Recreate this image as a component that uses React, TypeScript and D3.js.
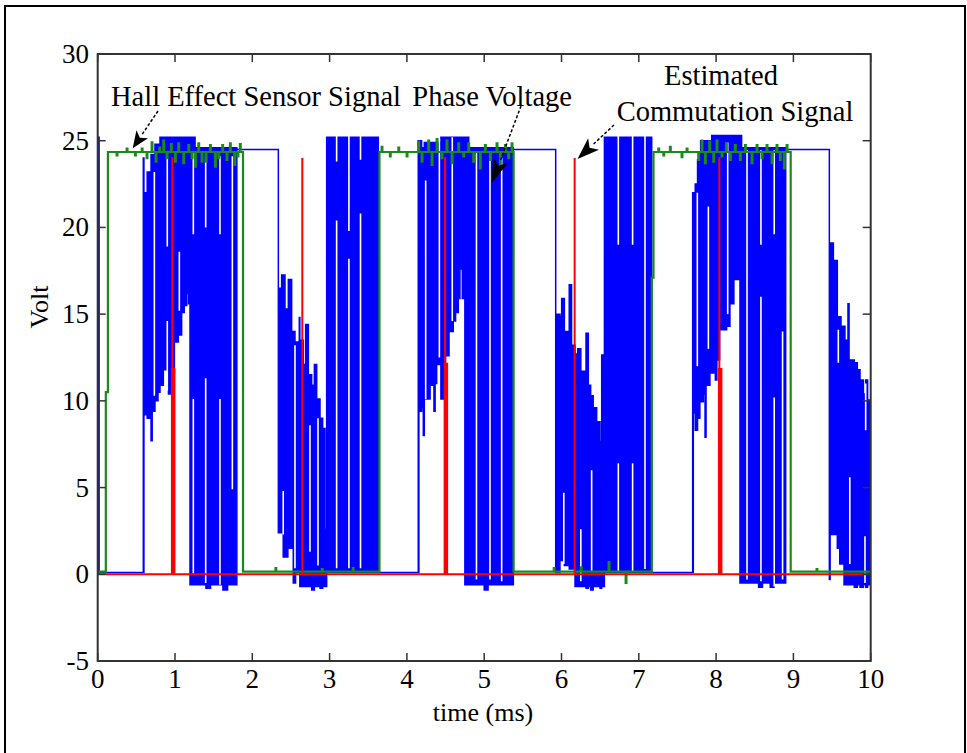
import React from 'react';
import * as d3 from 'd3';

const W = 967, H = 753;
const X0 = 97.7, X1 = 870.7, YT = 54, YB = 661;
const FONT = '"Liberation Serif", "Times New Roman", serif';

const xTicks = [0, 1, 2, 3, 4, 5, 6, 7, 8, 9, 10];
const yTicks = [-5, 0, 5, 10, 15, 20, 25, 30];

// Phase voltage envelope: [time ms, lower V, upper V] (step-after)
const blueEnv: number[][] = [
  [0.000, 0.1, 25.2], [0.018, 0.1, 0.1],
  [0.590, 0.1, 24.0], [0.598, 9.2, 22.0], [0.640, 9.0, 23.2], [0.690, 7.7, 24.2], [0.705, 9.4, 24.2],
  [0.741, 10.0, 24.8], [0.780, 10.5, 24.8], [0.806, 10.9, 25.2], [0.849, 11.8, 25.2], [0.892, 12.4, 25.2],
  [0.915, 10.4, 25.2], [0.945, 11.6, 25.2], [0.992, 13.4, 25.2], [1.043, 13.8, 25.2], [1.086, 15.1, 25.2],
  [1.120, 15.5, 25.2], [1.151, 16.2, 25.2], [1.175, 15.6, 25.2],
  [1.194, -0.6, 25.2], [1.260, -0.6, 24.6], [1.400, -0.8, 24.6], [1.460, -0.6, 24.6], [1.620, -0.9, 24.6],
  [1.680, -0.6, 24.6], [1.800, 24.5, 24.5],
  [2.337, 2.4, 16.5], [2.380, 2.4, 17.25], [2.400, 1.0, 17.25], [2.423, 1.0, 15.3], [2.460, 1.5, 15.3],
  [2.466, 1.5, 17.0], [2.509, 1.5, 14.0], [2.530, -0.5, 14.0], [2.552, -0.5, 13.4], [2.560, 0.1, 13.4],
  [2.608, 0.1, 14.8], [2.615, -0.7, 13.5], [2.660, -0.7, 12.1], [2.690, -0.7, 14.4], [2.725, -0.7, 11.5],
  [2.768, -0.9, 10.9], [2.803, -0.7, 12.1], [2.833, -0.7, 10.1], [2.876, -0.8, 9.0], [2.910, -0.7, 8.4],
  [2.940, -0.7, 2.6], [2.962, 0.1, 25.2], [3.630, 0.1, 0.1],
  [4.147, 0.1, 25.0], [4.155, 9.4, 25.0], [4.190, 9.6, 24.6], [4.212, 8.0, 24.6], [4.225, 10.1, 24.9],
  [4.300, 10.9, 24.9], [4.350, 9.4, 24.9], [4.365, 11.0, 24.9], [4.385, 12.1, 24.9], [4.440, 10.1, 25.2],
  [4.470, 11.0, 25.2], [4.500, 12.6, 25.2], [4.545, 14.0, 25.2], [4.600, 14.6, 25.2], [4.630, 15.1, 25.2],
  [4.665, 15.9, 25.2], [4.686, 17.6, 25.2], [4.717, 15.9, 25.2],
  [4.750, -0.6, 25.2], [4.800, -0.6, 24.6], [5.000, -0.9, 24.6], [5.050, -0.6, 24.6], [5.377, 24.5, 24.5],
  [5.925, 0.1, 15.0], [5.980, 0.8, 14.85], [6.002, 0.8, 15.9], [6.037, 0.5, 14.0], [6.100, 0.3, 16.7],
  [6.130, 0.3, 13.2], [6.175, -0.7, 12.7], [6.210, -0.7, 13.0], [6.250, -0.7, 11.7], [6.317, -0.8, 13.9],
  [6.347, -0.7, 10.9], [6.377, -0.9, 10.3], [6.410, -0.7, 9.6], [6.455, -0.7, 8.8], [6.498, -0.8, 7.65],
  [6.520, -0.7, 12.65], [6.555, 0.1, 25.2], [7.167, 0.1, 0.1],
  [7.697, 0.1, 22.0], [7.705, 9.3, 22.0], [7.730, 8.3, 22.5], [7.760, 9.0, 23.9], [7.790, 9.95, 23.9],
  [7.800, 9.95, 25.0], [7.835, 10.4, 25.0], [7.857, 7.9, 25.0], [7.870, 10.9, 25.0], [7.920, 11.6, 25.0],
  [7.943, 11.6, 25.3], [7.970, 12.2, 25.3], [7.990, 11.2, 25.3], [8.010, 12.35, 25.3], [8.045, 14.1, 25.3],
  [8.136, 14.3, 25.3], [8.179, 15.6, 25.3], [8.230, 17.0, 25.3],
  [8.309, -0.5, 25.3], [8.330, -0.5, 24.6], [8.550, -0.75, 24.6], [8.600, -0.5, 24.6], [8.700, -0.75, 24.6],
  [8.750, -0.5, 24.6], [8.900, 24.5, 24.5],
  [9.465, -0.3, 19.1], [9.475, 2.3, 19.1], [9.517, 2.3, 18.1], [9.568, 1.5, 14.85], [9.600, 0.6, 14.85],
  [9.616, 0.6, 14.3], [9.655, -0.6, 14.3], [9.667, -0.6, 13.5], [9.706, -0.6, 15.6], [9.720, -0.6, 12.35],
  [9.788, -0.75, 12.2], [9.827, -0.6, 11.8], [9.862, -0.75, 11.2], [9.905, -0.6, 10.4], [9.935, -0.75, 11.2],
  [9.960, -0.6, 10.05], [10.0, -0.6, 10.05],
];

// white gaps inside the PWM blocks: [time, from V, to V]
const blueGaps: number[][] = [
  [0.733, 10.3, 23.2], [0.900, 18.9, 24.0], [0.900, 10.6, 14.6], [1.056, 15.2, 18.6],
  [1.237, 0.05, 10.1], [1.237, 19.6, 24.3], [1.397, -0.5, 11.3], [1.397, 20.0, 24.1],
  [1.582, -0.6, 10.1], [1.582, 19.6, 24.1], [1.742, 4.9, 24.1],
  [2.400, 2.3, 4.8], [2.552, 0.35, 13.2], [2.746, 1.3, 8.6], [2.850, 0.5, 9.0],
  [3.091, 0.35, 20.4], [3.091, 23.8, 25.3], [3.250, 0.35, 18.2], [3.250, 19.8, 25.3],
  [3.400, 0.35, 20.8], [3.400, 23.9, 25.3],
  [4.243, 10.1, 22.7], [4.420, 12.5, 25.1], [4.587, 14.6, 25.2],
  [4.900, -0.3, 24.4], [5.075, -0.3, 24.2], [5.226, -0.4, 24.0],
  [6.030, 0.6, 4.7], [6.250, -0.4, 2.6], [6.390, 0.2, 6.0],
  [6.735, 0.15, 6.4], [6.735, 19.0, 25.3], [6.920, 0.15, 6.4], [6.920, 19.0, 25.3], [7.080, 0.3, 25.3],
  [7.757, 12.0, 22.0], [7.900, 13.0, 21.2], [8.150, 15.0, 24.9],
  [8.400, -0.3, 24.45], [8.580, -0.4, 16.0], [8.580, 19.0, 24.45], [8.752, -0.7, 10.2],
  [8.752, 19.6, 24.45], [8.860, -0.3, 14.0],
  [9.581, 12.2, 14.1], [9.730, 0.6, 5.6], [9.926, -0.5, 2.2], [9.935, 8.3, 11.0],
];

// Hall sensor signal levels (step-after) and noise spikes
const greenLevels: number[][] = [
  [0, 0.15], [0.105, 10.5], [0.132, 24.35], [1.88, 0.15], [3.645, 24.35], [5.38, 0.15],
  [7.168, 17.1], [7.19, 24.35], [8.965, 0.15],
];
const greenSpikes: number[][] = [
  [0.245, 24.15], [0.375, 24.55], [0.483, 24.15], [0.57, 24.55],
  [0.633, 24.0], [0.698, 24.9], [0.75, 23.8], [0.797, 24.6], [0.849, 25.0], [0.892, 24.0], [0.948, 24.8],
  [1.0, 23.8], [1.043, 24.85], [1.108, 23.7], [1.173, 24.75], [1.216, 24.0], [1.259, 23.5], [1.302, 24.85],
  [1.345, 23.8], [1.397, 23.8], [1.453, 24.75], [1.518, 23.5], [1.561, 24.0], [1.612, 24.75], [1.668, 23.9],
  [1.711, 24.85], [1.768, 23.6], [1.81, 24.1], [1.84, 24.8],
  [3.673, 24.65], [3.78, 24.1], [3.89, 24.6], [3.997, 24.1],
  [4.148, 24.94], [4.191, 23.8], [4.277, 25.0], [4.32, 23.6], [4.385, 25.1], [4.45, 24.0], [4.514, 25.0],
  [4.579, 23.7], [4.665, 24.85], [4.73, 24.1], [4.795, 24.85], [4.859, 23.8], [4.945, 23.4], [5.01, 24.75],
  [5.075, 23.9], [5.161, 24.85], [5.204, 23.6], [5.269, 24.75], [5.312, 24.0], [5.355, 24.85],
  [7.253, 24.55], [7.318, 24.15], [7.403, 24.65], [7.554, 24.05], [7.619, 24.55],
  [7.77, 23.9], [7.813, 25.0], [7.856, 23.7], [7.912, 24.95], [7.964, 23.8], [8.007, 25.0], [8.072, 24.1],
  [8.128, 24.85], [8.18, 23.9], [8.244, 24.75], [8.309, 23.9], [8.374, 24.75], [8.46, 23.7], [8.525, 24.75],
  [8.589, 24.0], [8.654, 24.75], [8.719, 23.7], [8.783, 24.75], [8.826, 23.9], [8.878, 23.4], [8.913, 24.75],
  [2.3, 0.35], [2.9, 0.3], [3.3, 0.35], [5.9, 0.35], [6.25, 0.4], [6.61, 0.7], [6.83, -0.5], [9.3, 0.3],
];

// Estimated commutation pulses: [time, top V, thick part top V]
const redPulses: number[][] = [
  [0.966, 24.05, 11.9], [2.647, 24.0, 0], [4.494, 24.05, 12.2], [6.17, 24.0, 0], [8.042, 24.05, 11.9],
];

export default function App() {
  const x = d3.scaleLinear().domain([0, 10]).range([X0, X1]);
  const y = d3.scaleLinear().domain([-5, 30]).range([YB, YT]);

  const area = d3.area<number[]>()
    .x(d => x(d[0])).y0(d => y(d[1])).y1(d => y(d[2]))
    .curve(d3.curveStepAfter);
  const bluePath = area(blueEnv) || '';

  const levelAt = (t: number) => {
    let v = greenLevels[0][1];
    for (const [lt, lv] of greenLevels) if (lt <= t) v = lv;
    return v;
  };
  const gPts: number[][] = greenLevels.map(d => [d[0], d[1]]);
  for (const [t, v] of greenSpikes) {
    gPts.push([t, v]);
    gPts.push([t + 0.01, levelAt(t)]);
  }
  gPts.sort((a, b) => a[0] - b[0]);
  gPts.push([10, levelAt(10)]);
  const line = d3.line<number[]>().x(d => x(d[0])).y(d => y(d[1])).curve(d3.curveStepAfter);
  const greenPath = line(gPts) || '';

  const arrow = (x1: number, y1: number, tx: number, ty: number, L: number, Wd: number) => {
    const dx = tx - x1, dy = ty - y1;
    const len = Math.sqrt(dx * dx + dy * dy);
    const ux = dx / len, uy = dy / len;
    const bx = tx - ux * L, by = ty - uy * L;
    const px = -uy, py = ux;
    return (
      <g>
        <line x1={x1} y1={y1} x2={bx} y2={by} stroke="#000" strokeWidth={1.5} strokeDasharray="3,2" />
        <polygon points={`${tx},${ty} ${bx + px * Wd},${by + py * Wd} ${bx + ux * L * 0.25},${by + uy * L * 0.25} ${bx - px * Wd},${by - py * Wd}`} fill="#000" />
      </g>
    );
  };

  return (
    <svg width={W} height={H} style={{ position: 'absolute', left: 0, top: 0, background: '#fff' }}
      fontFamily={FONT}>
      <rect x={0} y={0} width={W} height={H} fill="#fff" />
      <rect x={5} y={6} width={960} height={780} fill="none" stroke="#000" strokeWidth={2} />
      <defs>
        <clipPath id="plotclip">
          <rect x={X0} y={YT} width={X1 - X0} height={YB - YT} />
        </clipPath>
      </defs>
      <g clipPath="url(#plotclip)">
        <path d={bluePath} fill="#0000ff" stroke="#0000ff" strokeWidth={1.5} strokeLinejoin="miter" />
        {blueGaps.map((g, i) => (
          <line key={i} x1={x(g[0])} x2={x(g[0])} y1={y(g[1])} y2={y(g[2])} stroke="#fff" strokeWidth={1.6} />
        ))}
        <path d={greenPath} fill="none" stroke="#1a8a1a" strokeWidth={2.2} />
        <line x1={x(0)} x2={x(10)} y1={y(0)} y2={y(0)} stroke="#ff0000" strokeWidth={2} />
        {redPulses.map((p, i) => (
          <g key={i}>
            <line x1={x(p[0])} x2={x(p[0])} y1={y(0)} y2={y(p[1])} stroke="#ff0000" strokeWidth={2} />
            {p[2] > 0 && (
              <line x1={x(p[0]) + 0.8} x2={x(p[0]) + 0.8} y1={y(0)} y2={y(p[2])} stroke="#ff0000" strokeWidth={4.5} />
            )}
          </g>
        ))}
      </g>
      {/* axes box */}
      <rect x={X0} y={YT} width={X1 - X0} height={YB - YT} fill="none" stroke="#333" strokeWidth={2} />
      {xTicks.map(t => (
        <g key={'x' + t}>
          <line x1={x(t)} x2={x(t)} y1={YB} y2={YB - 8} stroke="#333" strokeWidth={1.5} />
          <line x1={x(t)} x2={x(t)} y1={YT} y2={YT + 8} stroke="#333" strokeWidth={1.5} />
          <text x={x(t)} y={688} textAnchor="middle" fontSize={27} fill="#000">{t}</text>
        </g>
      ))}
      {yTicks.map(v => (
        <g key={'y' + v}>
          <line x1={X0} x2={X0 + 8} y1={y(v)} y2={y(v)} stroke="#333" strokeWidth={1.5} />
          <line x1={X1} x2={X1 - 8} y1={y(v)} y2={y(v)} stroke="#333" strokeWidth={1.5} />
          <text x={89} y={y(v) + 9} textAnchor="end" fontSize={27} fill="#000">{v}</text>
        </g>
      ))}
      <text x={483} y={721} textAnchor="middle" fontSize={26} fill="#000">time (ms)</text>
      <text transform="translate(48,307) rotate(-90)" textAnchor="middle" fontSize={26} fill="#000">Volt</text>

      <text x={111} y={106} fontSize={28.5} fill="#000">Hall Effect Sensor Signal</text>
      <text x={572} y={106} textAnchor="end" fontSize={28.5} fill="#000">Phase Voltage</text>
      <text x={721} y={85} textAnchor="middle" fontSize={28.5} fill="#000">Estimated</text>
      <text x={735} y={121} textAnchor="middle" fontSize={28.5} fill="#000">Commutation Signal</text>

      {arrow(158, 111, 132.7, 148.3, 17, 7)}
      {arrow(521, 106, 491.7, 183.3, 25, 8)}
      {arrow(614, 125, 577.5, 159, 22, 8)}
    </svg>
  );
}
